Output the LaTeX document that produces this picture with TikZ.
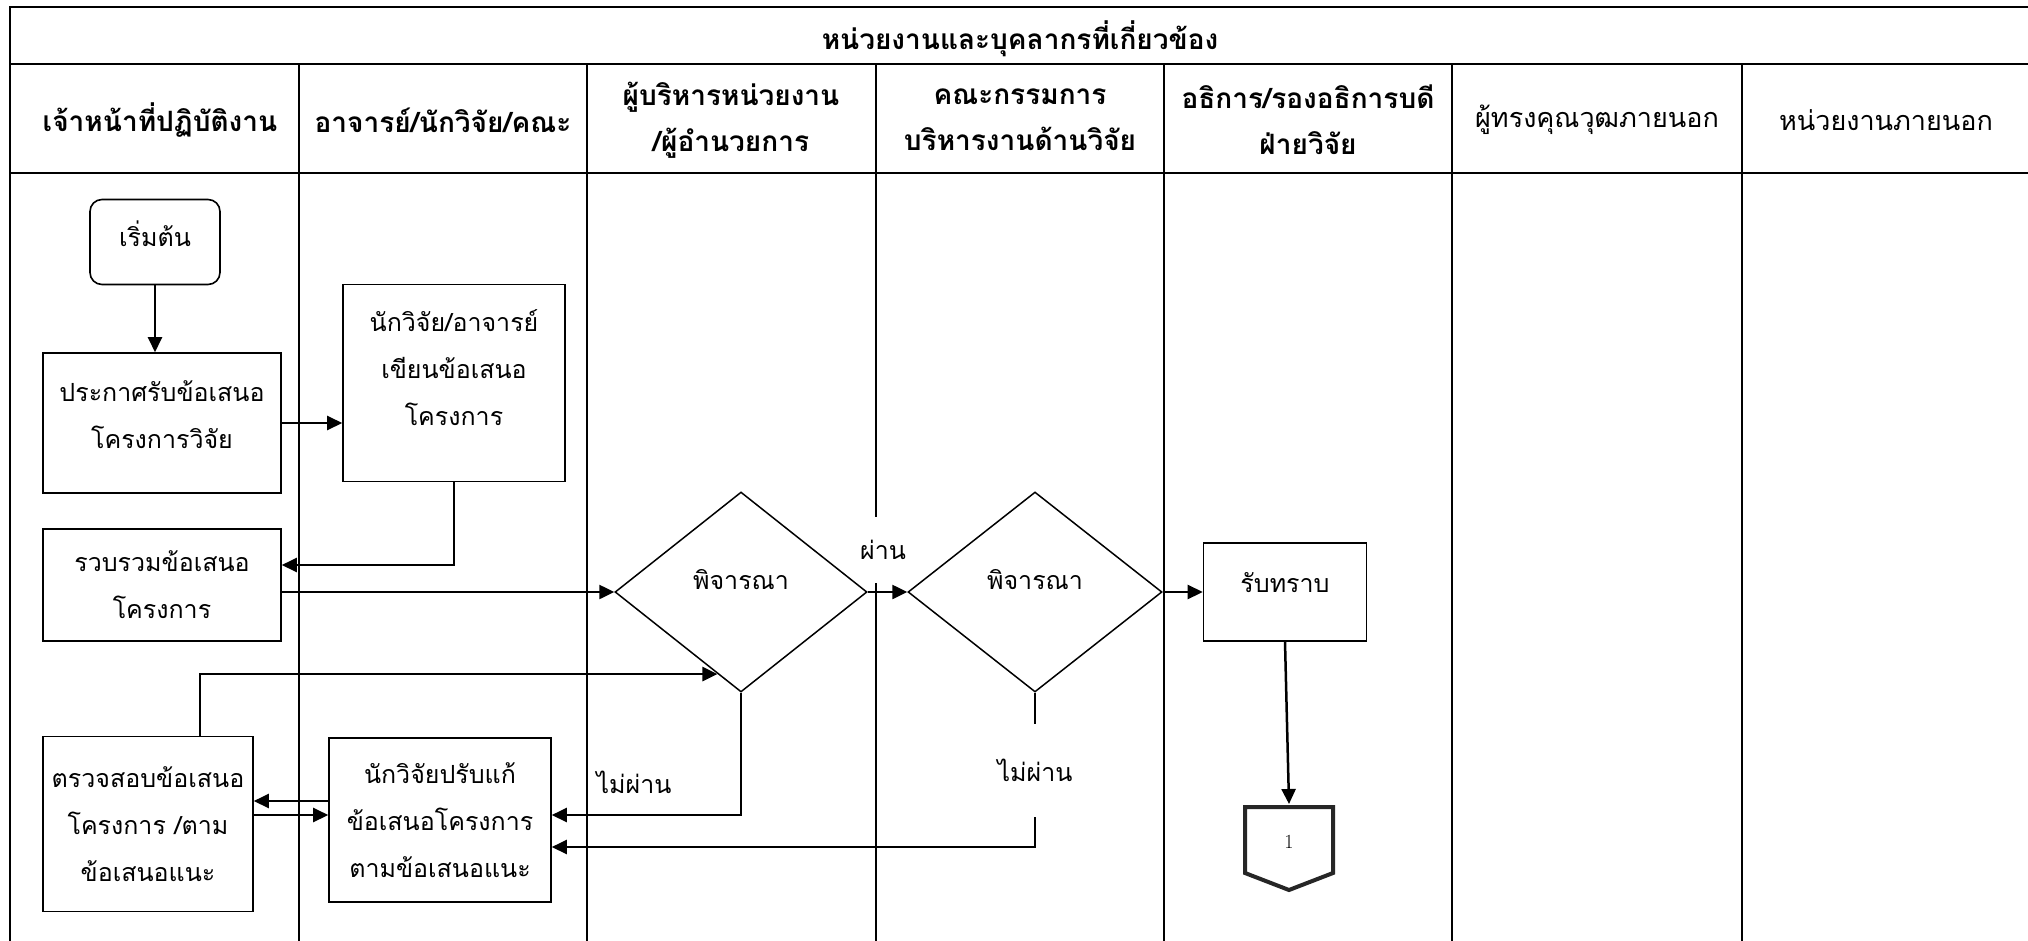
\documentclass[tikz,border=0pt]{standalone}
\usepackage{fontspec}
\newfontfamily\thaifont[Script=Thai]{Loma}
\usetikzlibrary{arrows.meta,shapes.geometric,calc}
\newcommand\bodyf{\thaifont\fontsize{25}{47}\selectfont}
\newcommand\headb{\thaifont\bfseries\fontsize{28}{46}\selectfont}
\newcommand\headr{\thaifont\fontsize{27}{46}\selectfont}
\begin{document}
\begin{tikzpicture}[x=1pt,y=-1pt,
  grid/.style={line width=2pt,black},
  box/.style={draw=black, line width=1.6pt, fill=white, align=center, inner sep=0pt, font=\bodyf},
  txt/.style={align=center, inner sep=0pt, font=\bodyf},
  arr/.style={line width=2.5pt, -{Triangle[length=15pt,width=14pt]}},
  dia/.style={diamond, draw=black, line width=1.5pt, fill=white, inner sep=0pt, font=\bodyf, minimum width=252pt, minimum height=200pt},
  hd/.style={align=center, font=\headb},
  hdr/.style={align=center, font=\headr},
  lbl/.style={font=\bodyf, inner sep=0pt}]
\useasboundingbox (0,0) rectangle (2028,941);
\fill[white] (0,0) rectangle (2028,941);
\begin{scope}
\clip (0,0) rectangle (2028,941);
\draw[grid, line width=2.4pt] (10,960) -- (10,7) -- (2040,7);
\draw[grid] (10,64) -- (2040,64);
\draw[grid] (10,173) -- (2040,173);
\foreach \x in {299,587,876,1164,1452,1742} \draw[grid] (\x,64) -- (\x,960);
\end{scope}
% headers
\node[hd] (h0) at (1020,39) {หน่วยงานและบุคลากรที่เกี่ยวข้อง};
\node[hd] (h1) at (160,120) {เจ้าหน้าที่ปฏิบัติงาน};
\node[hd] (h2) at (443,120) {อาจารย์/นักวิจัย/คณะ};
\node[hd] (h3) at (731,120) {ผู้บริหารหน่วยงาน\\/ผู้อำนวยการ};
\node[hd] (h4) at (1020,120) {คณะกรรมการ\\บริหารงานด้านวิจัย};
\node[hd] (h5) at (1308,120) {อธิการ/รองอธิการบดี\\ฝ่ายวิจัย};
\node[hdr] (h6) at (1597,120) {ผู้ทรงคุณวุฒภายนอก};
\node[hdr] (h7) at (1886,120) {หน่วยงานภายนอก};
% nodes
\node[box, rounded corners=12pt, minimum width=130pt, minimum height=85pt] (start) at (155,242) {};
\node[txt] (startT) at (155,234) {เริ่มต้น};
\node[box, minimum width=238pt, minimum height=140pt] (ann) at (162,423) {};
\node[txt] (annT) at (162,415) {ประกาศรับข้อเสนอ\\โครงการวิจัย};
\node[box, minimum width=222pt, minimum height=197pt] (write) at (454,383) {};
\node[txt] (writeT) at (454,368) {นักวิจัย/อาจารย์\\เขียนข้อเสนอ\\โครงการ};
\node[box, minimum width=238pt, minimum height=112pt] (collect) at (162,585) {รวบรวมข้อเสนอ\\โครงการ};
\node[dia] (d1) at (741,592) {\raisebox{26pt}{พิจารณา}};
\node[dia, minimum width=254pt] (d2) at (1035,592) {\raisebox{26pt}{พิจารณา}};
\node[box, minimum width=163pt, minimum height=98pt] (ack) at (1285,592) {};
\node[txt] (ackT) at (1285,583) {รับทราบ};
\node[box, minimum width=210pt, minimum height=175pt] (check) at (148,824) {ตรวจสอบข้อเสนอ\\โครงการ /ตาม\\ข้อเสนอแนะ};
\node[box, minimum width=222pt, minimum height=164pt] (revise) at (440,820) {นักวิจัยปรับแก้\\ข้อเสนอโครงการ\\ตามข้อเสนอแนะ};
% off-page connector
\draw[line width=4pt, draw=black!85, fill=white, line join=miter] (1245,807) -- (1333,807) -- (1333,873) -- (1289,890) -- (1245,873) -- cycle;
\node[font=\fontsize{20}{22}\selectfont] (conn) at (1289,842) {1};
\coordinate (connTop) at (1289,804);
% helper levels
\coordinate (yW) at (0,565);
\coordinate (y801) at (0,801);
\coordinate (y815) at (0,815);
\coordinate (y847) at (0,847);
\coordinate (cX) at (200,0);
% connectors
\draw[arr] (start.south) -- (start.south |- ann.north);
\draw[arr] (ann.east) -- (ann.east -| write.west);
\draw[arr] (write.south) |- (collect.east |- yW);
\draw[arr] (collect.east |- d1.west) -- (d1.west);
\draw[arr] (d2.east) -- (ack.west);
\draw[arr] (ack.south) -- (connTop);
\draw[arr] (check.north -| cX) |- (d1.254);
\draw[arr] (d1.south) |- (revise.east |- y815);
\draw[arr] (d2.south) |- (revise.east |- y847);
\draw[arr] (revise.west |- y801) -- (check.east |- y801);
\draw[arr] (check.east |- y815) -- (revise.west |- y815);
% labels
\node[lbl, fill=white, minimum height=66pt, minimum width=44pt] (pass) at (883,550) {ผ่าน};
\draw[arr] (d1.east) -- (d2.west);
\node[lbl] (nopass1) at (634,782) {ไม่ผ่าน};
\node[lbl, fill=white, minimum height=93pt] (nopass2) at (1035,770) {ไม่ผ่าน};
\end{tikzpicture}
\end{document}
